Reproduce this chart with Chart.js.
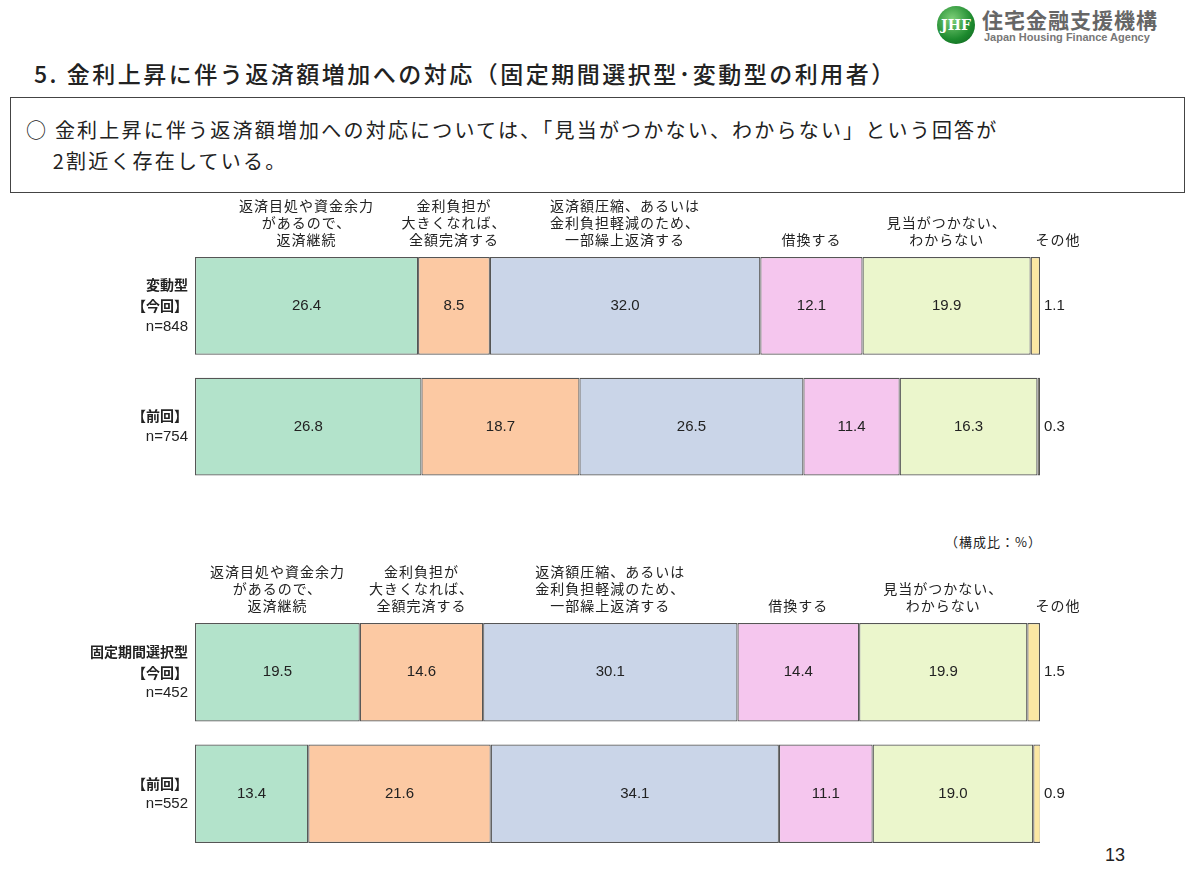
<!DOCTYPE html>
<html><head><meta charset="utf-8">
<script src="https://cdn.jsdelivr.net/npm/chart.js@4"></script>
<style>
body{margin:0;width:1200px;height:885px;background:#fff;position:relative;font-family:"Noto Sans CJK JP",sans-serif;overflow:hidden}
.a{position:absolute;white-space:nowrap;color:#222}
canvas{position:absolute;left:0}
</style></head><body>
<div class="a" style="left:937px;top:6px;width:38px;height:38px;border-radius:50%;background:radial-gradient(circle at 40% 35%,#7fd07a,#1d8a2e 60%,#0c5a1c);color:#fff;font:bold 14px 'DejaVu Serif';text-align:center;line-height:38px">JHF</div>
<div class="a" style="left:982px;top:4px;font-size:21px;font-weight:bold;color:#666;letter-spacing:1px">住宅金融支援機構</div>
<div class="a" style="left:984px;top:31px;font:bold 11px 'Liberation Sans';color:#777">Japan Housing Finance Agency</div>
<div class="a" style="left:34px;top:56px;font-size:23px;font-weight:500;letter-spacing:2.5px">5. 金利上昇に伴う返済額増加への対応（固定期間選択型･変動型の利用者）</div>
<div class="a" style="left:10px;top:97px;width:1173px;height:94px;border:1px solid #444"></div>
<div class="a" style="left:26px;top:114px;font-size:20px;line-height:31px;letter-spacing:2.2px">○ 金利上昇に伴う返済額増加への対応については、「見当がつかない、わからない」という回答が<br>&nbsp;&nbsp;&nbsp;&nbsp;2割近く存在している。</div>
<div class="a" style="left:945px;top:532px;font-size:13px;letter-spacing:1px">（構成比：%）</div>
<div class="a" style="left:1105px;top:845px;font:18px 'Liberation Sans'">13</div>
<canvas id="c1" style="top:195px" width="1200" height="300"></canvas>
<canvas id="c2" style="top:560px" width="1200" height="300"></canvas>
<script>
const categories=["返済目処や資金余力\nがあるので、\n返済継続","金利負担が\n大きくなれば、\n全額完済する","返済額圧縮、あるいは\n金利負担軽減のため、\n一部繰上返済する","借換する","見当がつかない、\nわからない","その他"];
const colors=["#b3e3cb","#fcc9a3","#cad5e8","#f5c6ee","#ebf6cc","#fbe7a3"];
const rows1=[["変動型","【今回】","n=848"],["【前回】","n=754"]];
const vals1=[[26.4,26.8],[8.5,18.7],[32.0,26.5],[12.1,11.4],[19.9,16.3],[1.1,0.3]];
const rows2=[["固定期間選択型","【今回】","n=452"],["【前回】","n=552"]];
const vals2=[[19.5,13.4],[14.6,21.6],[30.1,34.1],[14.4,11.1],[19.9,19.0],[1.5,0.9]];
const deco={id:'deco',afterDatasetsDraw(ch,a,o){
  const c=ch.ctx,x=ch.scales.x,y=ch.scales.y,ds=ch.data.datasets,rows=ch.options.plugins.deco.rows;
  const m=ch.getDatasetMeta(0).data[0];const barTop=m.y-m.height/2;
  c.save();c.fillStyle='#222';
  c.font='14px "Noto Sans CJK JP"';c.letterSpacing='1px';c.textAlign='center';c.textBaseline='alphabetic';
  let cum=0;
  ds.forEach((d,i)=>{const v=d.data[0];let cx=x.getPixelForValue(cum+v/2);cum+=v;
    const lines=categories[i].split('\n');if(i==ds.length-1)cx=x.right+18;
    lines.forEach((l,k)=>c.fillText(l,cx,barTop-12-(lines.length-1-k)*17));});
  c.letterSpacing='0px';
  c.textBaseline='middle';
  for(let r=0;r<ds[0].data.length;r++){let s=0;const py=y.getPixelForValue(r);
    c.font='15px "Liberation Sans"';
    ds.forEach((d,i)=>{const v=d.data[r];
      if(i==ds.length-1){c.textAlign='left';c.fillText(v.toFixed(1),x.right+4,py);}
      else{c.textAlign='center';c.fillText(v.toFixed(1),x.getPixelForValue(s+v/2),py);}s+=v;});
    c.textAlign='right';
    const L=rows[r];L.forEach((t,k)=>{c.font=(t.startsWith('n=')?'15px "Liberation Sans"':'bold 14px "Noto Sans CJK JP"');c.fillText(t,188,py+(k-(L.length-1)/2)*21);});
  }
  c.restore();}};
function make(id,vals,rows,pad){
  new Chart(document.getElementById(id),{type:'bar',plugins:[deco],
    data:{labels:rows.map((r,i)=>i),datasets:vals.map((v,i)=>({data:v,backgroundColor:colors[i],borderColor:'#555',borderWidth:1.2,borderSkipped:false,barPercentage:0.81,categoryPercentage:1}))},
    options:{indexAxis:'y',responsive:false,animation:false,layout:{padding:{left:195,right:160,top:pad[0],bottom:pad[1]}},
      scales:{x:{stacked:true,min:0,max:100,display:false},y:{stacked:true,display:false}},
      plugins:{legend:{display:false},tooltip:{enabled:false},deco:{rows}}}});
}
make('c1',vals1,rows1,[50.5,8]);
make('c2',vals2,rows2,[51.5,5.5]);
</script></body></html>
